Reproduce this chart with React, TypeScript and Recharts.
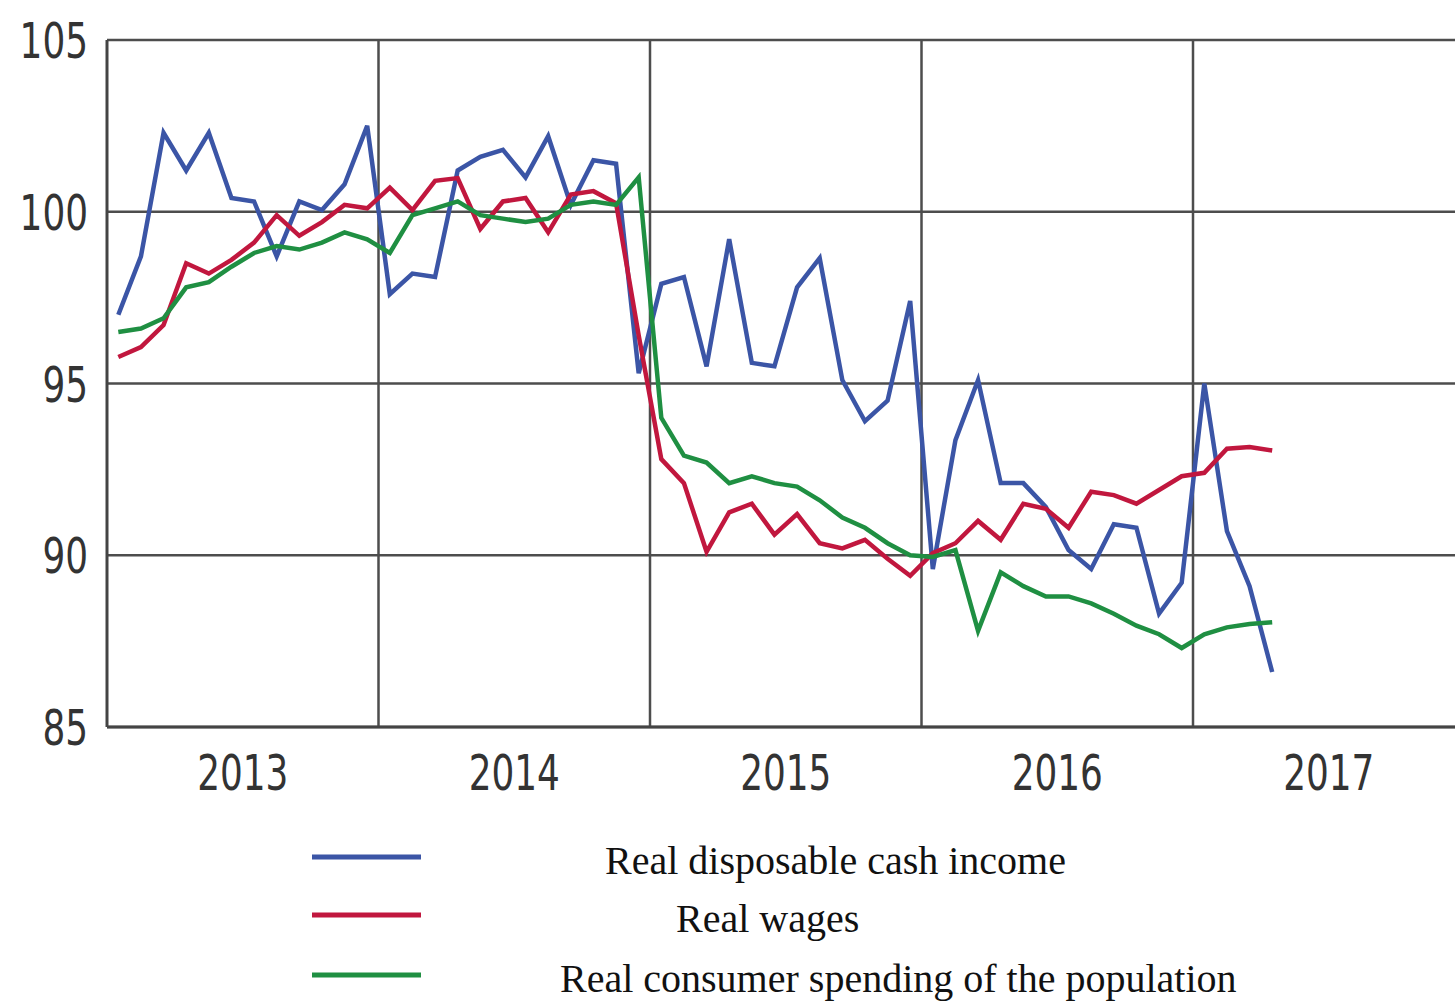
import React from "react";
import { LineChart, Line, XAxis, YAxis, CartesianGrid, ReferenceLine } from "recharts";

const years = ["2013", "2014", "2015", "2016", "2017"];
const yearTicks = [6, 18, 30, 42, 54];
const yearBoundaries = [12, 24, 36, 48];
const yTicks = [85, 90, 95, 100, 105];

const seriesNames = [
  "Real disposable cash income",
  "Real wages",
  "Real consumer spending of the population",
];
const seriesColors = ["#3b55a6", "#c1173e", "#1f8f42"];

// Monthly index values, Jan 2013 – Apr 2017
const income = [
  97.0, 98.7, 102.3, 101.2, 102.3, 100.4, 100.3, 98.7, 100.3, 100.05, 100.8, 102.5,
  97.6, 98.2, 98.1, 101.2, 101.6, 101.8, 101.0, 102.2, 100.2, 101.5, 101.4, 95.3,
  97.9, 98.1, 95.5, 99.2, 95.6, 95.5, 97.8, 98.65, 95.1, 93.9, 94.5, 97.4,
  89.6, 93.35, 95.1, 92.1, 92.1, 91.4, 90.15, 89.6, 90.9, 90.8, 88.3, 89.2,
  95.0, 90.7, 89.1, 86.6,
];
const wages = [
  95.77, 96.06, 96.7, 98.5, 98.2, 98.6, 99.1, 99.9, 99.3, 99.7, 100.2, 100.1,
  100.7, 100.05, 100.9, 100.98, 99.5, 100.3, 100.4, 99.4, 100.5, 100.6, 100.25, 96.4,
  92.8, 92.1, 90.1, 91.25, 91.5, 90.6, 91.2, 90.35, 90.2, 90.45, 89.9, 89.4,
  90.06, 90.35, 91.0, 90.45, 91.5, 91.35, 90.8, 91.85, 91.75, 91.5, 91.9, 92.3,
  92.4, 93.1, 93.15, 93.05,
];
const spending = [
  96.5, 96.6, 96.9, 97.8, 97.95, 98.4, 98.8, 99.0, 98.9, 99.1, 99.4, 99.2,
  98.8, 99.9, 100.1, 100.3, 99.9, 99.8, 99.7, 99.8, 100.2, 100.3, 100.2, 101.0,
  94.0, 92.9, 92.7, 92.1, 92.3, 92.1, 92.0, 91.6, 91.1, 90.8, 90.35, 90.0,
  89.95, 90.15, 87.8, 89.5, 89.1, 88.8, 88.8, 88.6, 88.3, 87.95, 87.7, 87.3,
  87.7, 87.9, 88.0, 88.05,
];

const data = income.map((v, i) => ({
  t: i + 0.5,
  income: v,
  wages: wages[i],
  spending: spending[i],
}));

const keys = ["income", "wages", "spending"];

const tickFont = "'Liberation Sans Narrow', 'DejaVu Sans Condensed', 'Liberation Sans', sans-serif";

const YTick = (props: any) => {
  const { x, y, payload } = props;
  const s = String(payload.value);
  return (
    <text
      x={x}
      y={y + 18}
      textAnchor="end"
      fontFamily={tickFont}
      fontSize={50}
      fill="#333"
      textLength={s.length * 22.8}
      lengthAdjust="spacingAndGlyphs"
    >
      {s}
    </text>
  );
};

const XTick = (props: any) => {
  const { x, y, payload } = props;
  const idx = yearTicks.indexOf(payload.value);
  const s = idx >= 0 ? years[idx] : "";
  return (
    <text
      x={x}
      y={y + 63}
      textAnchor="middle"
      fontFamily={tickFont}
      fontSize={50}
      fill="#333"
      textLength={s.length * 22.8}
      lengthAdjust="spacingAndGlyphs"
    >
      {s}
    </text>
  );
};

const legendRows = [
  { lineY: 857, textX: 605, baseline: 874 },
  { lineY: 915, textX: 676, baseline: 932 },
  { lineY: 975, textX: 560, baseline: 992 },
];

export default function App() {
  return (
    <div style={{ position: "absolute", left: 0, top: 0, width: 1455, height: 1001, background: "#fff", overflow: "hidden" }}>
      <LineChart
        width={1455}
        height={1001}
        data={data}
        margin={{ top: 40, right: 0, left: 0, bottom: 0 }}
      >
        <CartesianGrid vertical={false} stroke="#4d4d4d" strokeWidth={2.5} />
        {yearBoundaries.map((b) => (
          <ReferenceLine key={b} x={b} stroke="#4d4d4d" strokeWidth={2.5} />
        ))}
        <XAxis
          type="number"
          dataKey="t"
          domain={[0, 59.58]}
          ticks={yearTicks}
          tick={<XTick />}
          tickLine={false}
          tickSize={0}
          tickMargin={0}
          axisLine={{ stroke: "#444", strokeWidth: 3 }}
          height={274}
          allowDataOverflow
        />
        <YAxis
          type="number"
          domain={[85, 105]}
          ticks={yTicks}
          tick={<YTick />}
          tickLine={false}
          tickSize={0}
          tickMargin={19}
          axisLine={{ stroke: "#444", strokeWidth: 3 }}
          width={107}
          allowDataOverflow
        />
        {keys.map((k, i) => (
          <Line
            key={k}
            type="linear"
            dataKey={k}
            name={seriesNames[i]}
            stroke={seriesColors[i]}
            strokeWidth={4.5}
            dot={false}
            activeDot={false}
            isAnimationActive={false}
          />
        ))}
      </LineChart>
      <svg
        width={1455}
        height={1001}
        style={{ position: "absolute", left: 0, top: 0, pointerEvents: "none" }}
      >
        {legendRows.map((r, i) => (
          <g key={i}>
            <line x1={312} x2={421} y1={r.lineY} y2={r.lineY} stroke={seriesColors[i]} strokeWidth={5} />
            <text
              x={r.textX}
              y={r.baseline}
              fontFamily="'Liberation Serif', 'Times New Roman', serif"
              fontSize={40}
              fill="#111"
            >
              {seriesNames[i]}
            </text>
          </g>
        ))}
      </svg>
    </div>
  );
}
